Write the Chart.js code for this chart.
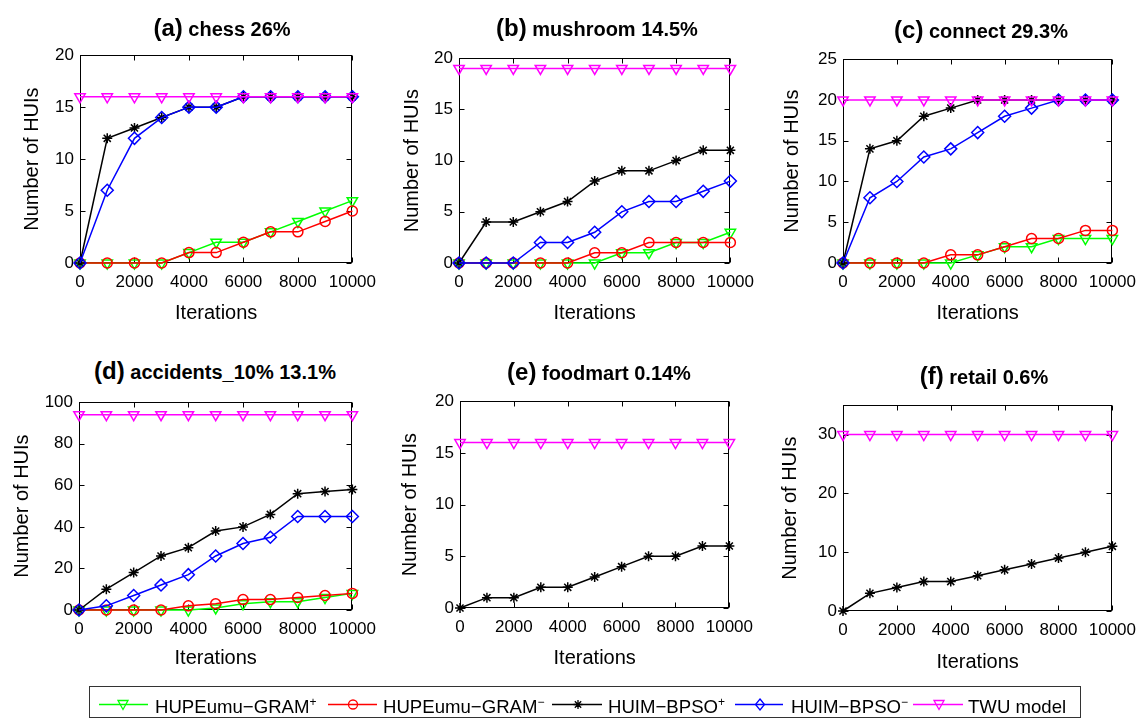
<!DOCTYPE html>
<html>
<head>
<meta charset="utf-8">
<script src="https://cdn.jsdelivr.net/npm/chart.js@4.4.1/dist/chart.umd.min.js"></script>
<style>
  html, body { margin:0; padding:0; background:#fff; }
  body { width:1142px; height:718px; position:relative; overflow:hidden; font-family:"Liberation Sans", Arial, sans-serif; }
  canvas { position:absolute; }
  .ttl { position:absolute; width:400px; height:30px; line-height:30px; text-align:center; font-weight:bold; color:#000; white-space:nowrap; }
  .ttl .lab { font-size:24px; }
  .ttl .nm { font-size:20px; }
  .lgbox { position:absolute; border:1px solid #333; box-sizing:border-box; }
  .lgt { position:absolute; font-size:18.6px; line-height:20px; height:20px; color:#000; white-space:nowrap; }
  .lgt .sp { font-size:12px; line-height:0; vertical-align:baseline; position:relative; top:-7px; }
  svg.lg { position:absolute; left:0; top:0; overflow:visible; }
</style>
</head>
<body>
<script>
// ---------------- data ----------------
const iterations = [0,1000,2000,3000,4000,5000,6000,7000,8000,9000,10000];
const xTicks = [0,2000,4000,6000,8000,10000];

const seriesNames = ['HUPEumu\u2212GRAM+', 'HUPEumu\u2212GRAM\u2212', 'HUIM\u2212BPSO+', 'HUIM\u2212BPSO\u2212', 'TWU model'];

// (a) chess 26%
const chessGramPlus  = [0,0,0,0,1,2,2,3,4,5,6];
const chessGramMinus = [0,0,0,0,1,1,2,3,3,4,5];
const chessBpsoPlus  = [0,12,13,14,15,15,16,16,16,16,16];
const chessBpsoMinus = [0,7,12,14,15,15,16,16,16,16,16];
const chessTwu       = [16,16,16,16,16,16,16,16,16,16,16];

// (b) mushroom 14.5%
const mushGramPlus  = [0,0,0,0,0,0,1,1,2,2,3];
const mushGramMinus = [0,0,0,0,0,1,1,2,2,2,2];
const mushBpsoPlus  = [0,4,4,5,6,8,9,9,10,11,11];
const mushBpsoMinus = [0,0,0,2,2,3,5,6,6,7,8];
const mushTwu       = [19,19,19,19,19,19,19,19,19,19,19];

// (c) connect 29.3%
const connGramPlus  = [0,0,0,0,0,1,2,2,3,3,3];
const connGramMinus = [0,0,0,0,1,1,2,3,3,4,4];
const connBpsoPlus  = [0,14,15,18,19,20,20,20,20,20,20];
const connBpsoMinus = [0,8,10,13,14,16,18,19,20,20,20];
const connTwu       = [20,20,20,20,20,20,20,20,20,20,20];

// (d) accidents_10% 13.1%
const accGramPlus  = [0,0,0,0,0,1,3,4,4,6,8];
const accGramMinus = [0,0,0,0,2,3,5,5,6,7,8];
const accBpsoPlus  = [0,10,18,26,30,38,40,46,56,57,58];
const accBpsoMinus = [0,2,7,12,17,26,32,35,45,45,45];
const accTwu       = [94,94,94,94,94,94,94,94,94,94,94];

// (e) foodmart 0.14%
const foodBpsoPlus = [0,1,1,2,2,3,4,5,5,6,6];
const foodTwu      = [16,16,16,16,16,16,16,16,16,16,16];

// (f) retail 0.6%
const retailBpsoPlus = [0,3,4,5,5,6,7,8,9,10,11];
const retailTwu      = [30,30,30,30,30,30,30,30,30,30,30];

// y-axis ranges
const yMaxA = 20, yStepA = 5;
const yMaxB = 20, yStepB = 5;
const yMaxC = 25, yStepC = 5;
const yMaxD = 100, yStepD = 20;
const yMaxE = 20, yStepE = 5;
const yMaxF = 35, yStepF = 10;

// ---------------- styles ----------------
const styles = [
  {color:'#00ff00', pointStyle:'triangle', rotation:180, radius:6, order:5},
  {color:'#ff0000', pointStyle:'circle',   rotation:0,   radius:5, order:4},
  {color:'#000000', pointStyle:'star',     rotation:0,   radius:5, order:3},
  {color:'#0000ff', pointStyle:'rectRot',  rotation:0,   radius:6, order:2},
  {color:'#ff00ff', pointStyle:'triangle', rotation:180, radius:6, order:1}
];

const FONT = '"Liberation Sans", Arial, sans-serif';
const YW = 75, PT = 10, PR = 32, XH = 70;

const panels = [
  {lab:'(a)', name:'chess 26%', series:[chessGramPlus,chessGramMinus,chessBpsoPlus,chessBpsoMinus,chessTwu],
   yMax:yMaxA, yStep:yStepA, box:{l:80,t:49,r:353,b:263}, ylabD:48, xlabE:50, tc:{x:222,y:28}},
  {lab:'(b)', name:'mushroom 14.5%', series:[mushGramPlus,mushGramMinus,mushBpsoPlus,mushBpsoMinus,mushTwu],
   yMax:yMaxB, yStep:yStepB, box:{l:459,t:52,r:731,b:263}, ylabD:47, xlabE:50, tc:{x:597,y:28}},
  {lab:'(c)', name:'connect 29.3%', series:[connGramPlus,connGramMinus,connBpsoPlus,connBpsoMinus,connTwu],
   yMax:yMaxC, yStep:yStepC, box:{l:843,t:53,r:1113,b:263}, ylabD:51, xlabE:50, tc:{x:981,y:30}},
  {lab:'(d)', name:'accidents_10% 13.1%', series:[accGramPlus,accGramMinus,accBpsoPlus,accBpsoMinus,accTwu],
   yMax:yMaxD, yStep:yStepD, box:{l:79,t:396,r:353,b:610}, ylabD:57, xlabE:48, tc:{x:215,y:371}},
  {lab:'(e)', name:'foodmart 0.14%', series:[null,null,foodBpsoPlus,null,foodTwu],
   yMax:yMaxE, yStep:yStepE, box:{l:460,t:395,r:730,b:608}, ylabD:50, xlabE:50, tc:{x:599,y:372}},
  {lab:'(f)', name:'retail 0.6%', series:[null,null,retailBpsoPlus,null,retailTwu],
   yMax:yMaxF, yStep:yStepF, box:{l:843,t:399,r:1113,b:611}, ylabD:53, xlabE:51, tc:{x:984,y:376}}
];

const framePlugin = {
  id:'frame',
  beforeDatasetsDraw(chart) {
    const {ctx, chartArea:{left,top,right,bottom}, scales:{x,y}} = chart;
    ctx.save();
    ctx.strokeStyle = '#000';
    ctx.lineWidth = 1;
    const L = Math.round(left)+0.5, R = Math.round(right)-0.5, T = Math.round(top)+0.5, B = Math.round(bottom)-0.5;
    ctx.strokeRect(L, T, R-L, B-T);
    const tl = 5;
    ctx.beginPath();
    x.ticks.forEach(t => {
      const px = Math.round(x.getPixelForValue(t.value)) + 0.5;
      ctx.moveTo(px, B); ctx.lineTo(px, B - tl);
      ctx.moveTo(px, T); ctx.lineTo(px, T + tl);
    });
    y.ticks.forEach(t => {
      const py = Math.round(y.getPixelForValue(t.value)) + 0.5;
      ctx.moveTo(L, py); ctx.lineTo(L + tl, py);
      ctx.moveTo(R, py); ctx.lineTo(R - tl, py);
    });
    ctx.stroke();
    ctx.restore();
  }
};

panels.forEach((p, i) => {
  const b = p.box;
  const cw = (b.r - b.l) + YW + PR;
  const ch = (b.b - b.t) + PT + XH;
  const cv = document.createElement('canvas');
  cv.width = cw; cv.height = ch;
  cv.style.left = (b.l - YW) + 'px';
  cv.style.top = (b.t - PT) + 'px';
  cv.style.width = cw + 'px'; cv.style.height = ch + 'px';
  document.body.appendChild(cv);

  const datasets = [];
  p.series.forEach((arr, k) => {
    if (!arr) return;
    const s = styles[k];
    datasets.push({
      label: seriesNames[k],
      data: iterations.map((it, j) => ({x: it, y: arr[j]})),
      borderColor: s.color,
      backgroundColor: 'rgba(0,0,0,0)',
      borderWidth: 1.5,
      pointStyle: s.pointStyle,
      pointRotation: s.rotation,
      pointRadius: s.radius,
      pointBorderWidth: 1.5,
      pointBorderColor: s.color,
      pointBackgroundColor: 'rgba(0,0,0,0)',
      tension: 0,
      fill: false,
      clip: false,
      order: s.order
    });
  });

  const tickFont = {family: FONT, size: 17};
  const titleFont = {family: FONT, size: 20};
  const lh = 20 * 1.2;

  new Chart(cv, {
    type: 'line',
    data: {datasets},
    options: {
      responsive: false,
      animation: false,
      events: [],
      layout: {padding: {left: 0, top: PT, right: PR, bottom: 0}},
      plugins: {legend: {display: false}, title: {display: false}, tooltip: {enabled: false}},
      scales: {
        x: {
          type: 'linear', min: 0, max: 10000,
          grid: {display: false, drawTicks: false},
          border: {display: false},
          afterBuildTicks: sc => { sc.ticks = xTicks.map(v => ({value: v})); },
          afterFit: sc => { sc.height = XH; },
          ticks: {color: '#000', font: tickFont, padding: 9, maxRotation: 0, autoSkip: false,
                  callback: v => String(v)},
          title: {display: true, text: 'Iterations', color: '#000', font: titleFont,
                  padding: {top: 0, bottom: XH - p.xlabE - lh/2}}
        },
        y: {
          type: 'linear', min: 0, max: p.yMax,
          grid: {display: false, drawTicks: false},
          border: {display: false},
          afterBuildTicks: sc => { sc.ticks = sc.ticks.filter(t => t.value % p.yStep === 0); },
          afterFit: sc => { sc.width = YW; },
          ticks: {color: '#000', font: tickFont, padding: 6, stepSize: p.yStep, callback: v => String(v)},
          title: {display: true, text: 'Number of HUIs', color: '#000', font: titleFont,
                  padding: {top: YW - p.ylabD - lh/2, bottom: 0}}
        }
      }
    },
    plugins: [framePlugin]
  });

  const t = document.createElement('div');
  t.className = 'ttl';
  t.style.left = (p.tc.x - 200) + 'px';
  t.style.top = (p.tc.y - 15) + 'px';
  const s1 = document.createElement('span'); s1.className = 'lab'; s1.textContent = p.lab;
  const s2 = document.createElement('span'); s2.className = 'nm'; s2.textContent = ' ' + p.name;
  t.appendChild(s1); t.appendChild(s2);
  document.body.appendChild(t);
});

// ---------------- legend ----------------
(function buildLegend() {
  const box = document.createElement('div');
  box.className = 'lgbox';
  box.style.left = '89px'; box.style.top = '686px'; box.style.width = '992px'; box.style.height = '32px';
  document.body.appendChild(box);

  const ly = 704.5;
  const items = [
    {k:0, x1:99,  x2:148, mx:123, tx:155, base:'HUPEumu\u2212GRAM', sup:'+'},
    {k:1, x1:328, x2:377, mx:353, tx:383, base:'HUPEumu\u2212GRAM', sup:'\u2212'},
    {k:2, x1:552, x2:602, mx:578, tx:608, base:'HUIM\u2212BPSO', sup:'+'},
    {k:3, x1:735, x2:783, mx:760, tx:791, base:'HUIM\u2212BPSO', sup:'\u2212'},
    {k:4, x1:913, x2:963, mx:939, tx:968, base:'TWU model', sup:''}
  ];
  const NS = 'http://www.w3.org/2000/svg';
  const svg = document.createElementNS(NS, 'svg');
  svg.setAttribute('class', 'lg');
  svg.setAttribute('width', '1142'); svg.setAttribute('height', '718');
  document.body.appendChild(svg);
  function el(name, attrs) {
    const e = document.createElementNS(NS, name);
    for (const a in attrs) e.setAttribute(a, attrs[a]);
    svg.appendChild(e);
    return e;
  }
  items.forEach(it => {
    const c = styles[it.k].color;
    el('line', {x1: it.x1, y1: ly, x2: it.x2, y2: ly, stroke: c, 'stroke-width': 1.5});
    const m = it.mx, y = ly;
    const common = {fill: 'none', stroke: c, 'stroke-width': 1.3};
    if (it.k === 0 || it.k === 4) {
      el('polygon', Object.assign({points: `${m-5},${y-4} ${m+5},${y-4} ${m},${y+5}`}, common));
    } else if (it.k === 1) {
      el('circle', Object.assign({cx: m, cy: y, r: 4.5}, common));
    } else if (it.k === 2) {
      const r = 4.5, d = r * Math.SQRT1_2;
      el('path', Object.assign({d: `M${m-r},${y}L${m+r},${y}M${m},${y-r}L${m},${y+r}M${m-d},${y-d}L${m+d},${y+d}M${m-d},${y+d}L${m+d},${y-d}`}, common));
    } else if (it.k === 3) {
      el('polygon', Object.assign({points: `${m},${y-5.5} ${m+4.5},${y} ${m},${y+5.5} ${m-4.5},${y}`}, common));
    }
    const t = document.createElement('div');
    t.className = 'lgt';
    t.style.left = it.tx + 'px';
    t.style.top = '697px';
    t.appendChild(document.createTextNode(it.base));
    if (it.sup) {
      const s = document.createElement('span');
      s.className = 'sp';
      s.textContent = it.sup;
      t.appendChild(s);
    }
    document.body.appendChild(t);
  });
})();
</script>
</body>
</html>
